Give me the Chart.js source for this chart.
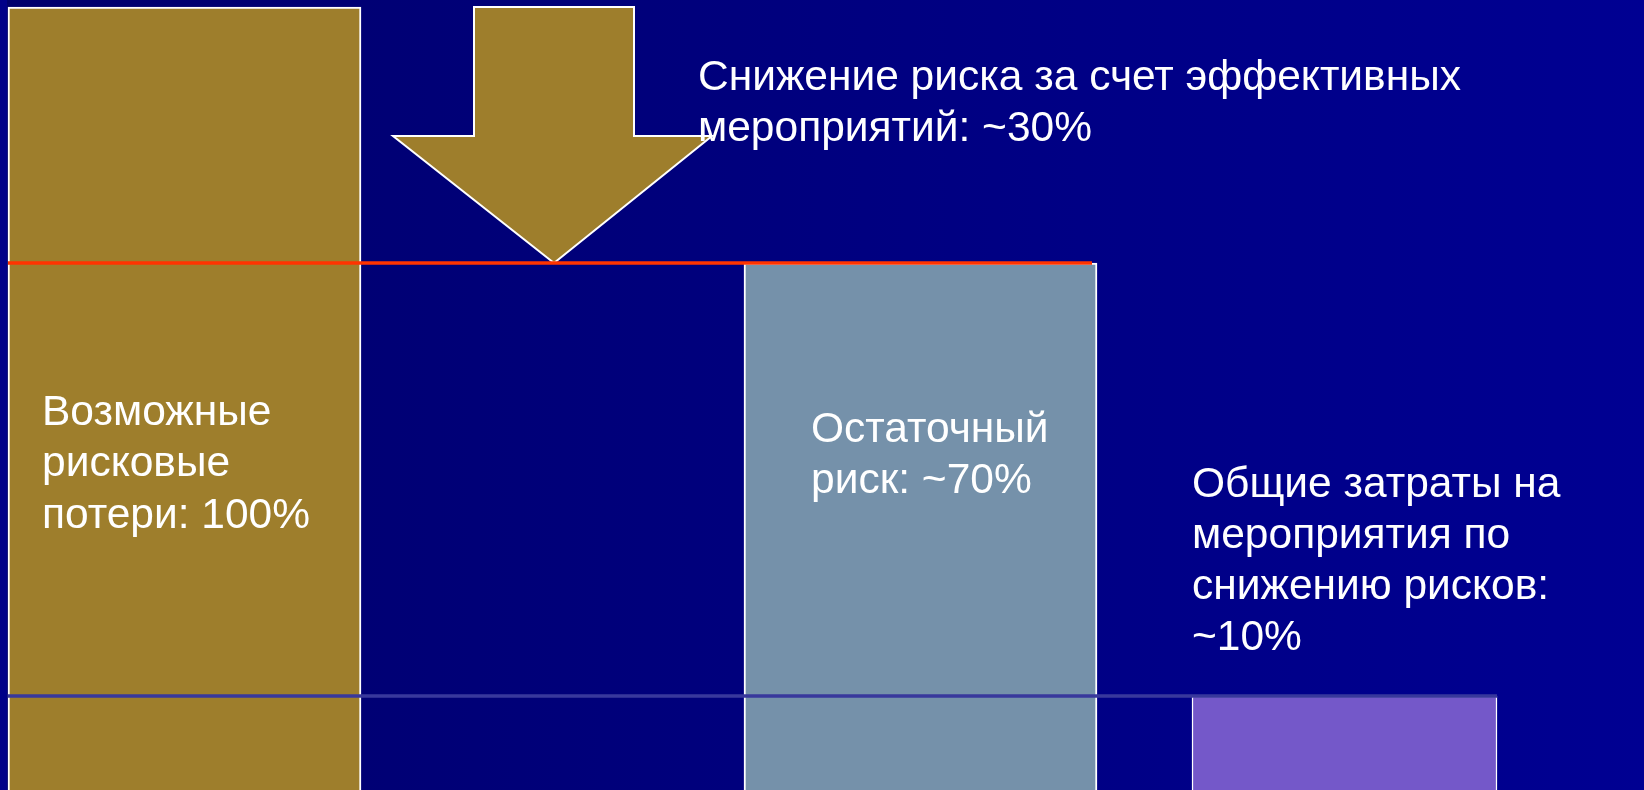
<!DOCTYPE html>
<html>
<head>
<meta charset="utf-8">
<script src="https://cdn.jsdelivr.net/npm/chart.js@4/dist/chart.umd.min.js"></script>
<style>
  html, body { margin: 0; padding: 0; background: #000070; overflow: hidden; }
  #wrap { width: 1644px; height: 790px; }
</style>
</head>
<body>
<div id="wrap"><canvas id="c" width="1644" height="790"></canvas></div>
<script>
// ---- data ----
const categories = ['Возможные рисковые потери', 'Остаточный риск', 'Общие затраты на мероприятия'];
const values = [100, 67.3, 12.0];           // bar heights, % of possible losses
const reductionTitle = ['Снижение риска за счет эффективных', 'мероприятий: ~30%'];
const barLabels = [
  ['Возможные', 'рисковые', 'потери: 100%'],
  ['Остаточный', 'риск: ~70%'],
  ['Общие затраты на', 'мероприятия по', 'снижению рисков:', '~10%']
];

// ---- layout / style (not data) ----
const W = 1644, H = 790;
const barCenters = [184.5, 920.5, 1344.5];
const barWidths = [353, 353, 305];
const barColors = ['#9e7e2c', '#7591aa', '#7458c9'];
const barBorders = [2, 2, 1.5];
const redLineX = [8, 1092];
const blueLineX = [8, 1497];
const arrow = { shaftL: 474, shaftR: 634, headL: 393, headR: 712, tip: 554, headBaseY: 136 };
const textPos = [
  { x: 42, y: 425 },
  { x: 811, y: 442 },
  { x: 1192, y: 496.5 }
];
const titlePos = { x: 698, y: 89.5 };
const FONT = '42.5px "Liberation Sans", Arial, sans-serif';
const LINE_H = 51.3;

const bgPlugin = {
  id: 'bg',
  beforeDraw(chart) {
    const ctx = chart.ctx;
    ctx.save();
    const g = ctx.createLinearGradient(0, 0, W, 0);
    g.addColorStop(0, '#00006c');
    g.addColorStop(1, '#000092');
    ctx.fillStyle = g;
    ctx.fillRect(0, 0, W, H);
    ctx.fillStyle = '#000088';
    ctx.fillRect(0, 0, 7, H);
    ctx.restore();
  }
};

const arrowPlugin = {
  id: 'arrow',
  beforeDatasetsDraw(chart) {
    const ctx = chart.ctx, y = chart.scales.y;
    const top = y.getPixelForValue(values[0]);
    const tipY = y.getPixelForValue(values[1]);
    ctx.save();
    ctx.beginPath();
    ctx.moveTo(arrow.shaftL, top);
    ctx.lineTo(arrow.shaftR, top);
    ctx.lineTo(arrow.shaftR, arrow.headBaseY);
    ctx.lineTo(arrow.headR, arrow.headBaseY);
    ctx.lineTo(arrow.tip, tipY);
    ctx.lineTo(arrow.headL, arrow.headBaseY);
    ctx.lineTo(arrow.shaftL, arrow.headBaseY);
    ctx.closePath();
    ctx.fillStyle = barColors[0];
    ctx.fill();
    ctx.strokeStyle = '#ffffff';
    ctx.lineWidth = 2;
    ctx.lineJoin = 'miter';
    ctx.stroke();
    ctx.restore();
  }
};

const textPlugin = {
  id: 'texts',
  afterDatasetsDraw(chart) {
    const ctx = chart.ctx;
    ctx.save();
    ctx.font = FONT;
    ctx.fillStyle = '#ffffff';
    ctx.textBaseline = 'alphabetic';
    ctx.textAlign = 'left';
    reductionTitle.forEach((t, i) => ctx.fillText(t, titlePos.x, titlePos.y + i * LINE_H));
    barLabels.forEach((lines, k) => {
      lines.forEach((t, i) => ctx.fillText(t, textPos[k].x, textPos[k].y + i * LINE_H));
    });
    ctx.restore();
  }
};

const barDatasets = values.map((v, i) => ({
  type: 'bar',
  label: categories[i],
  data: [{ x: barCenters[i], y: v }],
  backgroundColor: barColors[i],
  borderColor: '#ffffff',
  borderWidth: barBorders[i],
  borderSkipped: 'bottom',
  barThickness: barWidths[i],
  grouped: false,
  order: 2
}));

const lineDatasets = [
  {
    type: 'line',
    label: 'Уровень остаточного риска',
    data: [{ x: redLineX[0], y: values[1] }, { x: redLineX[1], y: values[1] }],
    borderColor: '#ff3300',
    borderWidth: 3.5,
    pointRadius: 0,
    fill: false,
    order: 0
  },
  {
    type: 'line',
    label: 'Уровень затрат',
    data: [{ x: blueLineX[0], y: values[2] }, { x: blueLineX[1], y: values[2] }],
    borderColor: '#38389c',
    borderWidth: 3.5,
    pointRadius: 0,
    fill: false,
    order: 1
  }
];

new Chart(document.getElementById('c'), {
  type: 'bar',
  data: { datasets: [...lineDatasets, ...barDatasets] },
  options: {
    responsive: false,
    animation: false,
    devicePixelRatio: 1,
    layout: { padding: 0 },
    plugins: { legend: { display: false }, tooltip: { enabled: false } },
    scales: {
      x: { type: 'linear', min: 0, max: W, offset: false, display: false },
      y: { type: 'linear', min: 0, max: 100 * H / (H - 7), display: false }
    }
  },
  plugins: [bgPlugin, arrowPlugin, textPlugin]
});
</script>
</body>
</html>
